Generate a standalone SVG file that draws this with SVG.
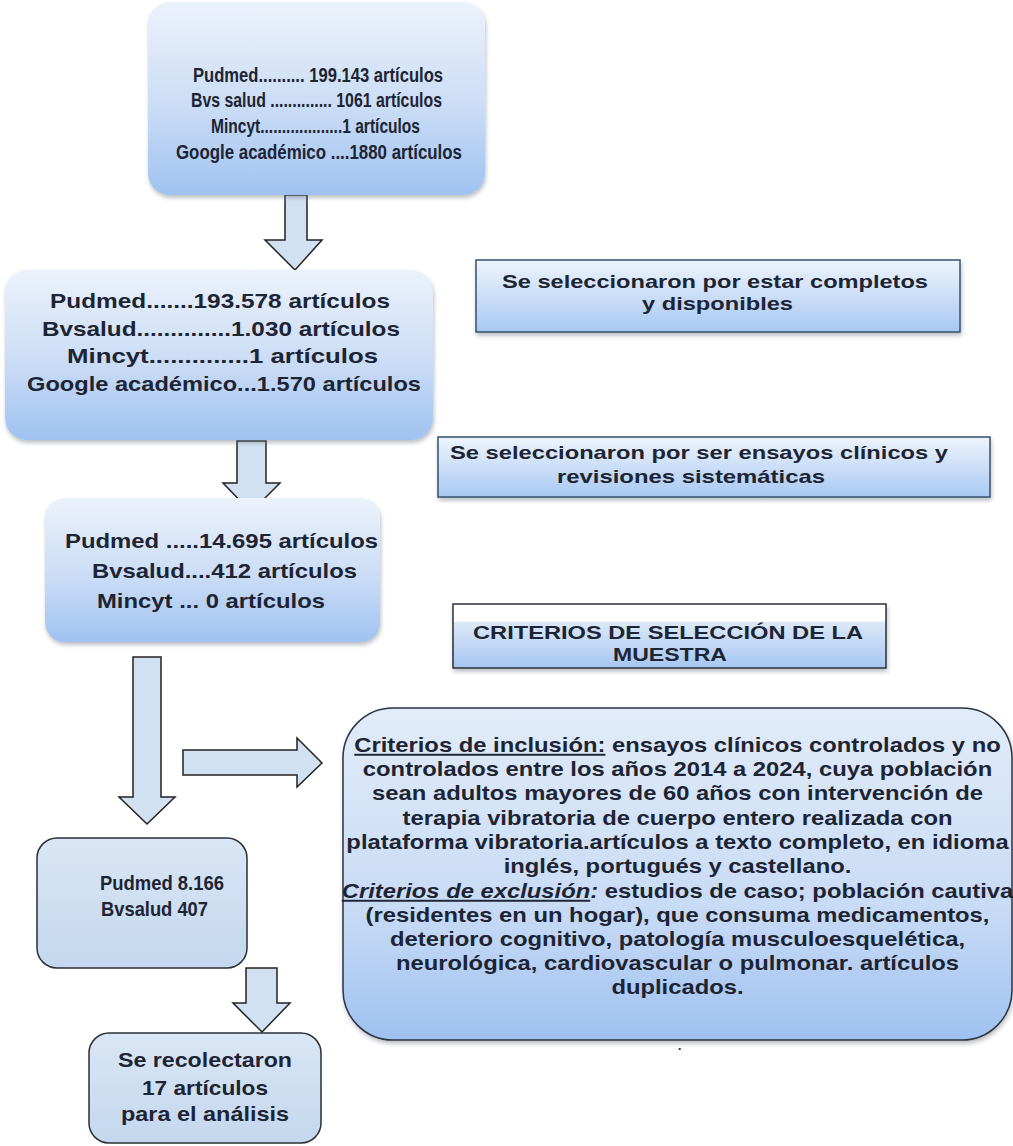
<svg xmlns="http://www.w3.org/2000/svg" width="1013" height="1146" viewBox="0 0 1013 1146">
<defs>
<linearGradient id="gBox" x1="0" y1="0" x2="0" y2="1">
<stop offset="0" stop-color="#ecf2fb"/>
<stop offset="0.55" stop-color="#cadcf5"/>
<stop offset="1" stop-color="#9fc2f1"/>
</linearGradient>
<linearGradient id="gSide" x1="0" y1="0" x2="0" y2="1">
<stop offset="0" stop-color="#eef4fc"/>
<stop offset="1" stop-color="#a8c8f2"/>
</linearGradient>
<linearGradient id="gCrit" x1="0" y1="0" x2="0" y2="1">
<stop offset="0" stop-color="#ffffff"/>
<stop offset="0.27" stop-color="#ffffff"/>
<stop offset="0.28" stop-color="#dce8f8"/>
<stop offset="1" stop-color="#a6c6f1"/>
</linearGradient>
<linearGradient id="gBig" x1="0" y1="0" x2="0" y2="1">
<stop offset="0" stop-color="#e2ecf9"/>
<stop offset="0.6" stop-color="#c8dbf5"/>
<stop offset="1" stop-color="#9fc1f0"/>
</linearGradient>
<linearGradient id="gSmall" x1="0" y1="0" x2="0" y2="1">
<stop offset="0" stop-color="#d9e6f5"/>
<stop offset="1" stop-color="#c4d7ee"/>
</linearGradient>
<filter id="sh" x="-5%" y="-5%" width="112%" height="115%">
<feDropShadow dx="1" dy="3" stdDeviation="2" flood-color="#6a7480" flood-opacity="0.45"/>
</filter>
</defs>
<style>
text{font-family:"Liberation Sans",Arial,sans-serif;font-weight:bold;fill:#1d2433}
.arrow{fill:#d2e1f1;stroke:#222;stroke-width:1.5;stroke-linejoin:miter}
.soft{fill:url(#gBox);filter:url(#sh)}
.side{fill:url(#gSide);stroke:#34506e;stroke-width:1.5;filter:url(#sh)}
.small{fill:url(#gSmall);stroke:#2a2f36;stroke-width:1.5}
.f20{font-size:20px}
.f21{font-size:21px}
.f19{font-size:19px}
</style>

<g id="connectors">
<path class="arrow" d="M285,195 H307 V240 H322 L295,270 L265,240 H285 Z"/>
<path class="arrow" d="M237,441 H266 V483 H280 L251,512 L223,483 H237 Z"/>
<path class="arrow" d="M133,657 H161 V797 H175 L147,824 L119,797 H133 Z"/>
<path class="arrow" d="M183,750 H297 V738 L322,763 L297,787 V775 H183 Z"/>
<path class="arrow" d="M246,968 H277 V1003 H290 L262,1032 L233,1003 H246 Z"/>
</g>

<g id="node-fuentes">
<rect class="soft" x="148" y="2" width="337" height="193" rx="22"/>
<text class="f20" x="193" y="82" textLength="250" lengthAdjust="spacingAndGlyphs">Pudmed.......... 199.143 artículos</text>
<text class="f20" x="191" y="107" textLength="251" lengthAdjust="spacingAndGlyphs">Bvs salud .............. 1061 artículos</text>
<text class="f20" x="211" y="133" textLength="209" lengthAdjust="spacingAndGlyphs">Mincyt...................1 artículos</text>
<text class="f20" x="176" y="159" textLength="286" lengthAdjust="spacingAndGlyphs">Google académico ....1880 artículos</text>
</g>

<g id="node-completos">
<rect class="soft" x="5" y="270" width="428" height="170" rx="22"/>
<text class="f21" x="50" y="308" textLength="340" lengthAdjust="spacingAndGlyphs">Pudmed.......193.578 artículos</text>
<text class="f21" x="42" y="336" textLength="358" lengthAdjust="spacingAndGlyphs">Bvsalud..............1.030 artículos</text>
<text class="f21" x="67" y="363" textLength="311" lengthAdjust="spacingAndGlyphs">Mincyt..............1 artículos</text>
<text class="f21" x="27" y="391" textLength="394" lengthAdjust="spacingAndGlyphs">Google académico...1.570 artículos</text>
</g>

<g id="label-completos">
<rect class="side" x="476" y="260" width="484" height="72"/>
<text class="f19" x="502" y="288" textLength="426" lengthAdjust="spacingAndGlyphs">Se seleccionaron por estar completos</text>
<text class="f19" x="642" y="310" textLength="151" lengthAdjust="spacingAndGlyphs">y disponibles</text>
</g>

<g id="label-ensayos">
<rect class="side" x="438" y="437" width="552" height="60"/>
<text class="f19" x="450" y="459" textLength="498" lengthAdjust="spacingAndGlyphs">Se seleccionaron por ser ensayos clínicos y</text>
<text class="f19" x="557" y="483" textLength="268" lengthAdjust="spacingAndGlyphs">revisiones sistemáticas</text>
</g>

<g id="node-ensayos">
<rect class="soft" x="45" y="498" width="335" height="144" rx="20"/>
<text class="f21" x="65" y="548" textLength="313" lengthAdjust="spacingAndGlyphs">Pudmed .....14.695 artículos</text>
<text class="f21" x="92" y="578" textLength="265" lengthAdjust="spacingAndGlyphs">Bvsalud....412 artículos</text>
<text class="f21" x="97" y="608" textLength="228" lengthAdjust="spacingAndGlyphs">Mincyt ... 0 artículos</text>
</g>

<g id="label-criterios">
<rect x="453" y="604" width="433" height="64" fill="url(#gCrit)" stroke="#2a2f36" stroke-width="1.5" filter="url(#sh)"/>
<text class="f19" x="473" y="639" textLength="390" lengthAdjust="spacingAndGlyphs">CRITERIOS DE SELECCIÓN DE LA</text>
<text class="f19" x="613" y="661" textLength="114" lengthAdjust="spacingAndGlyphs">MUESTRA</text>
</g>

<g id="node-criterios">
<rect x="343" y="708" width="669" height="332" rx="50" fill="url(#gBig)" stroke="#2a3442" stroke-width="1.5" filter="url(#sh)"/>
<g transform="translate(677.5,0) scale(1.22,1)" text-anchor="middle" font-size="19.5">
<text x="0" y="752"><tspan text-decoration="underline">Criterios de inclusión:</tspan> ensayos clínicos controlados y no</text>
<text x="0" y="776">controlados entre los años 2014 a 2024, cuya población</text>
<text x="0" y="800">sean adultos mayores de 60 años con intervención de</text>
<text x="0" y="825">terapia vibratoria de cuerpo entero realizada con</text>
<text x="0" y="849">plataforma vibratoria.artículos a texto completo, en idioma</text>
<text x="0" y="873">inglés, portugués y castellano.</text>
<text x="0" y="898"><tspan font-style="italic" text-decoration="underline">Criterios de exclusión</tspan><tspan font-style="italic">:</tspan> estudios de caso; población cautiva</text>
<text x="0" y="922">(residentes en un hogar), que consuma medicamentos,</text>
<text x="0" y="946">deterioro cognitivo, patología musculoesquelética,</text>
<text x="0" y="970">neurológica, cardiovascular o pulmonar. artículos</text>
<text x="0" y="994">duplicados.</text>
</g>
<text x="678" y="1050" font-size="12">.</text>
</g>

<g id="node-seleccion">
<rect class="small" x="37" y="838" width="210" height="130" rx="20"/>
<text class="f21" x="100" y="890" textLength="124" lengthAdjust="spacingAndGlyphs">Pudmed 8.166</text>
<text class="f21" x="101" y="916" textLength="107" lengthAdjust="spacingAndGlyphs">Bvsalud 407</text>
</g>

<g id="node-final">
<rect class="small" x="89" y="1033" width="232" height="110" rx="20"/>
<g text-anchor="middle">
<text class="f21" x="205" y="1067" textLength="174" lengthAdjust="spacingAndGlyphs">Se recolectaron</text>
<text class="f21" x="205" y="1095" textLength="126" lengthAdjust="spacingAndGlyphs">17 artículos</text>
<text class="f21" x="205" y="1121" textLength="168" lengthAdjust="spacingAndGlyphs">para el análisis</text>
</g>
</g>
</svg>
